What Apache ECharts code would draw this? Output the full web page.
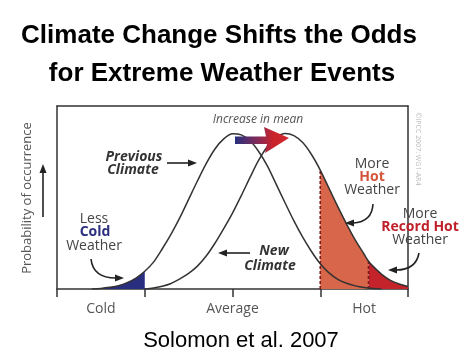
<!DOCTYPE html>
<html><head><meta charset="utf-8">
<script src="https://cdn.jsdelivr.net/npm/echarts@6/dist/echarts.min.js"></script>
<style>html,body{margin:0;padding:0;background:#fff}#c{width:476px;height:358px}</style>
</head><body><div id="c"></div>
<script>
// ---- data ----
const categories = ['Cold', 'Average', 'Hot'];
const categoryPositions = [0.5, 2, 3.5];
const tickValues = [0, 1, 2, 3, 4];

const previousX = [0.4,0.5,0.6,0.7,0.8,0.9,1.0,1.1,1.2,1.3,1.4,1.5,1.6,1.7,1.8,1.9,2.0,2.1,2.2,2.3,2.4,2.5,2.6,2.7,2.8,2.9,3.0,3.1,3.2,3.3,3.4,3.5,3.6,3.7];
const previousY = [0,0.003,0.009,0.018,0.035,0.06,0.097,0.147,0.22,0.30,0.39,0.49,0.59,0.685,0.765,0.82,0.848,0.842,0.81,0.75,0.67,0.57,0.47,0.372,0.283,0.205,0.138,0.088,0.053,0.031,0.017,0.008,0.003,0];

const newX = [1.0,1.1,1.2,1.3,1.4,1.5,1.6,1.7,1.8,1.9,2.0,2.1,2.2,2.3,2.4,2.5,2.6,2.7,2.8,2.9,3.0,3.1,3.2,3.3,3.4,3.5,3.55,3.6,3.7,3.8,3.9,4.0];
const newY = [0,0.006,0.015,0.03,0.055,0.085,0.125,0.18,0.25,0.33,0.415,0.51,0.61,0.705,0.78,0.83,0.85,0.838,0.80,0.735,0.65,0.55,0.45,0.355,0.267,0.19,0.152,0.125,0.08,0.047,0.027,0.014];

const coldStart = 0.5;
const coldLimit = 1.0;
const hotLimit = 3.0;
const recordLimit = 3.55;
const hotEnd = 4.0;

// ---- chart ----
const chart = echarts.init(document.getElementById('c'), null, {renderer: 'canvas'});
const prevPairs = previousX.map((x, i) => [x, previousY[i]]);
const newPairs = newX.map((x, i) => [x, newY[i]]);
const inRange = (p, a, b) => p[0] >= a - 1e-9 && p[0] <= b + 1e-9;
const valAt = (xs, ys, x) => ys[xs.findIndex(v => Math.abs(v - x) < 1e-9)];

const frame = {color: '#333', width: 1.5};
const hiddenAxis = {axisTick: {show: false}, axisLabel: {show: false}, splitLine: {show: false}};
const SM = 0.3;

const option = {
  animation: false,
  backgroundColor: '#fff',
  grid: {left: 57, right: 68, top: 106, bottom: 69},
  xAxis: [
    {type: 'value', min: 0, max: 4, interval: 0.5,
     axisLine: {show: true, onZero: false, lineStyle: frame},
     axisTick: {show: true, customValues: tickValues, length: 8, lineStyle: frame},
     axisLabel: {customValues: categoryPositions,
       formatter: v => categories[categoryPositions.findIndex(c => Math.abs(c - v) < 1e-9)] || '',
       color: '#555', fontFamily: 'Open Sans', fontSize: 14, margin: 13},
     splitLine: {show: false}},
    Object.assign({type: 'value', position: 'top', min: 0, max: 4,
     axisLine: {show: true, onZero: false, lineStyle: frame}}, hiddenAxis)
  ],
  yAxis: [
    Object.assign({type: 'value', min: 0, max: 1,
     axisLine: {show: true, onZero: false, lineStyle: frame}}, hiddenAxis),
    Object.assign({type: 'value', position: 'right', min: 0, max: 1,
     axisLine: {show: true, onZero: false, lineStyle: frame}}, hiddenAxis)
  ],
  series: [
    {type: 'line', data: prevPairs.filter(p => inRange(p, coldStart, coldLimit)), smooth: SM,
     showSymbol: false, lineStyle: {width: 0}, areaStyle: {color: '#2a2e7e', opacity: 1}, z: 1, silent: true},
    {type: 'line', data: newPairs.filter(p => inRange(p, hotLimit, recordLimit)), smooth: SM,
     showSymbol: false, lineStyle: {width: 0}, areaStyle: {color: '#d8664a', opacity: 1}, z: 1, silent: true},
    {type: 'line', data: newPairs.filter(p => inRange(p, recordLimit, hotEnd)), smooth: SM,
     showSymbol: false, lineStyle: {width: 0}, areaStyle: {color: '#c4232c', opacity: 1}, z: 1, silent: true},
    {type: 'line', data: [[hotLimit, 0], [hotLimit, valAt(newX, newY, hotLimit)]], showSymbol: false,
     lineStyle: {color: '#7a1a16', width: 1.6, type: [3, 2]}, z: 3},
    {type: 'line', data: [[recordLimit, 0], [recordLimit, valAt(newX, newY, recordLimit)]], showSymbol: false,
     lineStyle: {color: '#7a1a16', width: 1.6, type: [3, 2]}, z: 3},
    {type: 'line', data: prevPairs, smooth: SM, showSymbol: false,
     lineStyle: {color: '#333', width: 1.5}, z: 4},
    {type: 'line', data: newPairs, smooth: SM, showSymbol: false,
     lineStyle: {color: '#333', width: 1.5}, z: 4}
  ]
};
chart.setOption(option);

// ---- annotations ----
function head(tx, ty, ang, len, wid) {
  len = len || 8; wid = wid || 3.5;
  const bx = tx - Math.cos(ang) * len, by = ty - Math.sin(ang) * len;
  const nx = -Math.sin(ang) * wid, ny = Math.cos(ang) * wid;
  return {type: 'polygon', z: 100, shape: {points: [[tx, ty], [bx + nx, by + ny], [bx - nx, by - ny]]}, style: {fill: '#222'}};
}
function line(x1, y1, x2, y2) {
  return {type: 'line', z: 100, shape: {x1, y1, x2, y2}, style: {stroke: '#222', lineWidth: 1.6}};
}
function curve(x1, y1, cx, cy, x2, y2) {
  return {type: 'bezierCurve', z: 100, shape: {x1, y1, x2, y2, cpx1: cx, cpy1: cy}, style: {stroke: '#222', lineWidth: 1.6, fill: null}};
}
function txt(s, x, y, font, color, extra) {
  return Object.assign({type: 'text', z: 100, x, y,
    style: {text: s, font, fill: color, align: 'center', verticalAlign: 'middle'}}, extra || {});
}
const ann = '"Open Sans", sans-serif';
const gradArrow = {
  type: 'polygon', z: 101,
  shape: {points: [[235, 136.5], [266, 136.5], [264, 127], [289, 138], [265, 153], [267, 144], [235, 144]]},
  style: {fill: new echarts.graphic.LinearGradient(0, 0, 1, 0, [
    {offset: 0, color: '#25307f'}, {offset: 0.45, color: '#8a2a55'}, {offset: 0.7, color: '#c8232c'}, {offset: 1, color: '#d4272c'}])}
};

chart.setOption({graphic: [
  txt('Climate Change Shifts the Odds', 219, 36, 'bold 26px "Liberation Sans", Arial', '#000'),
  txt('for Extreme Weather Events', 222, 74, 'bold 26px "Liberation Sans", Arial', '#000'),
  txt('Solomon et al. 2007', 241, 341, '22px "Liberation Sans", Arial', '#000'),
  txt('Probability of occurrence', 27, 198, '13px ' + ann, '#555', {rotation: Math.PI / 2}),
  line(43, 217, 43, 172), head(43, 164, -Math.PI / 2, 9, 3.5),
  txt('©IPCC 2007: WG1-AR4', 418, 149, '7px ' + ann, '#bbb', {rotation: -Math.PI / 2}),
  txt('Increase in mean', 258, 120, 'italic 12px ' + ann, '#555'),
  gradArrow,
  txt('Previous', 134, 157, 'bold italic 14px ' + ann, '#333'),
  txt('Climate', 133, 170, 'bold italic 14px ' + ann, '#333'),
  line(167, 163, 189, 163), head(197, 163, 0, 9, 3.5),
  txt('New', 274, 251, 'bold italic 14px ' + ann, '#333'),
  txt('Climate', 270, 266, 'bold italic 14px ' + ann, '#333'),
  line(250, 253, 226, 253), head(218, 253, Math.PI, 9, 3.5),
  txt('Less', 94, 219, '14px ' + ann, '#444'),
  txt('Cold', 95, 232, 'bold 14px ' + ann, '#2b2f7e'),
  txt('Weather', 94, 246, '14px ' + ann, '#444'),
  curve(91, 259, 93, 278, 116, 278), head(124, 278, 0, 9, 3.5),
  txt('More', 372, 164, '14px ' + ann, '#444'),
  txt('Hot', 372, 177, 'bold 14px ' + ann, '#d4533a'),
  txt('Weather', 372, 190, '14px ' + ann, '#444'),
  curve(373, 204, 372, 222, 353, 223), head(345, 223, Math.PI, 9, 3.5),
  txt('More', 420, 214, '14px ' + ann, '#444'),
  txt('Record Hot', 420, 227, 'bold 14px ' + ann, '#c0202a'),
  txt('Weather', 420, 240, '14px ' + ann, '#444'),
  curve(419, 253, 416, 270, 396, 270), head(388, 270, Math.PI, 9, 3.5)
]});
</script></body></html>
